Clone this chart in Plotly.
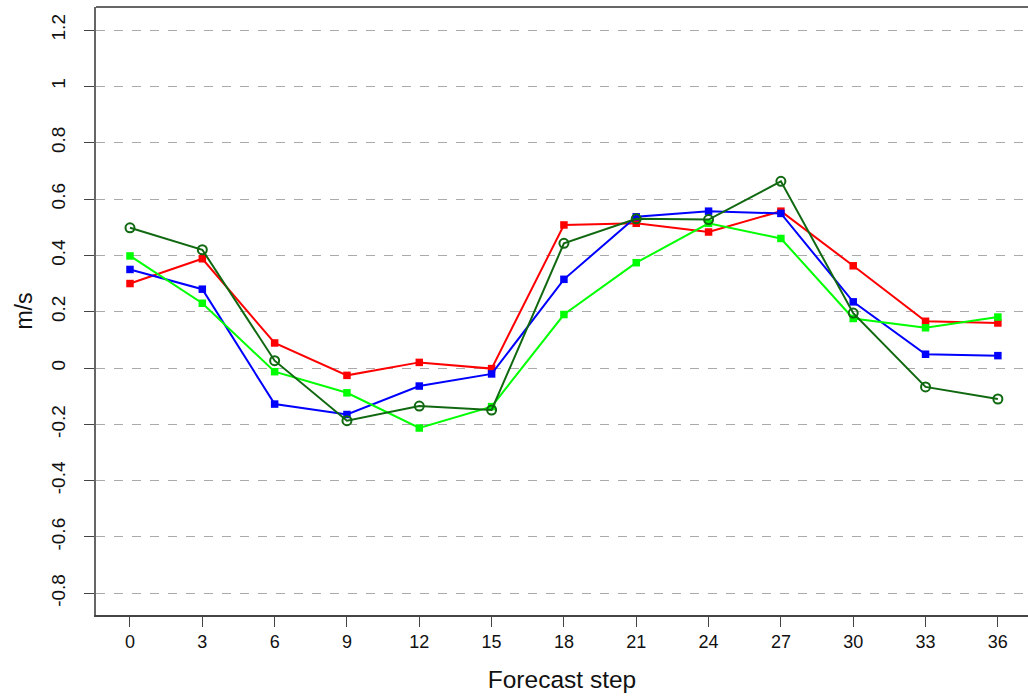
import plotly.graph_objects as go

# Forecast steps (hours)
steps = [0, 3, 6, 9, 12, 15, 18, 21, 24, 27, 30, 33, 36]

# Mean error per forecast step (m/s) for each experiment
red_vals = [0.30, 0.388, 0.089, -0.026, 0.02, -0.002, 0.508, 0.514, 0.483, 0.557, 0.363, 0.166, 0.16]
blue_vals = [0.35, 0.28, -0.128, -0.165, -0.064, -0.021, 0.315, 0.537, 0.557, 0.549, 0.235, 0.049, 0.044]
green_vals = [0.398, 0.23, -0.013, -0.088, -0.213, -0.137, 0.19, 0.374, 0.514, 0.46, 0.176, 0.143, 0.181]
darkgreen_vals = [0.498, 0.42, 0.026, -0.187, -0.135, -0.149, 0.443, 0.53, 0.527, 0.663, 0.195, -0.067, -0.11]

y_ticks = [-0.8, -0.6, -0.4, -0.2, 0, 0.2, 0.4, 0.6, 0.8, 1, 1.2]
y_tick_labels = ["-0.8", "-0.6", "-0.4", "-0.2", "0", "0.2", "0.4", "0.6", "0.8", "1", "1.2"]

FONT = "Liberation Sans, Arial, sans-serif"

fig = go.Figure()

square_series = [
    (red_vals, "#ff0000"),
    (blue_vals, "#0000ff"),
    (green_vals, "#00ff00"),
]
for vals, col in square_series:
    fig.add_trace(go.Scatter(
        x=steps, y=vals, mode="lines+markers",
        line=dict(color=col, width=2),
        marker=dict(symbol="square", size=7.5, color=col),
        showlegend=False,
    ))

fig.add_trace(go.Scatter(
    x=steps, y=darkgreen_vals, mode="lines+markers",
    line=dict(color="#106810", width=2),
    marker=dict(symbol="circle-open", size=9, color="#106810", line=dict(width=2)),
    showlegend=False,
))

fig.update_layout(
    width=1028, height=698,
    margin=dict(l=96, r=0, t=7, b=83),
    paper_bgcolor="white", plot_bgcolor="white",
    font=dict(family=FONT, color="#111111"),
    xaxis=dict(
        range=[-1.41, 37.25],
        tickvals=steps, ticktext=[str(s) for s in steps],
        showgrid=False, zeroline=False,
        showline=True, linecolor="#444444", linewidth=1.5,
        ticks="outside", ticklen=10, tickcolor="#444444", tickwidth=1,
        tickfont=dict(size=18, family=FONT),
        title=dict(text="Forecast step", font=dict(size=24.5, family=FONT), standoff=20),
    ),
    yaxis=dict(
        range=[-0.877, 1.282],
        tickvals=y_ticks, ticktext=y_tick_labels,
        tickangle=-90,
        showgrid=True, gridcolor="#aaaaaa", griddash="dash", gridwidth=1,
        zeroline=False,
        showline=True, linecolor="#666666", linewidth=2,
        ticks="outside", ticklen=10, tickcolor="#444444", tickwidth=1,
        ticklabelstandoff=11,
        tickfont=dict(size=19, family=FONT),
        title=dict(text="m/s", font=dict(size=23, family=FONT), standoff=9),
    ),
    shapes=[dict(type="line", xref="paper", yref="paper", x0=0, x1=1, y0=1, y1=1,
                 line=dict(color="#666666", width=2))],
)

fig.write_html("out.html")
